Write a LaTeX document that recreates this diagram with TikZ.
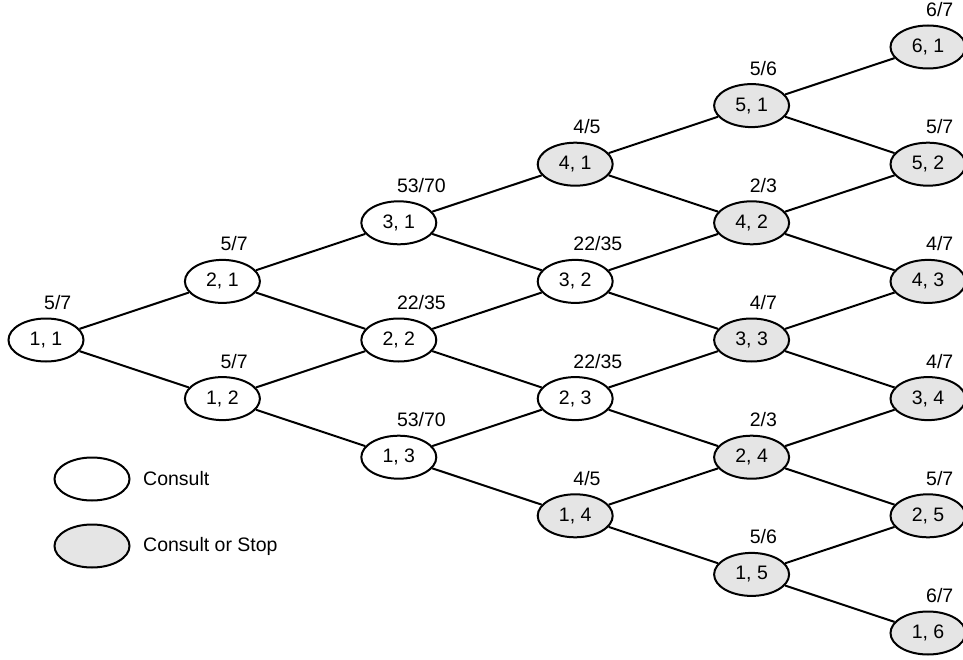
\documentclass[tikz,border=0pt]{standalone}
\usepackage{fontspec}
\setmainfont{Liberation Sans}
\usetikzlibrary{shapes.geometric}
\definecolor{cinza}{gray}{0.9}

\begin{document}
\begin{tikzpicture}[x=1pt, y=-1pt,
  estado/.style={ellipse, draw, line width=2pt, minimum width=75pt,
    minimum height=43pt, inner sep=0pt, font=\fontsize{19.5}{22}\selectfont},
  parar/.style={estado, fill=cinza},
  valor/.style={anchor=base west, inner sep=0pt, font=\fontsize{19.5}{22}\selectfont},
  legenda/.style={anchor=west, inner sep=0pt, font=\fontsize{19.5}{22}\selectfont},
  ramo/.style={line width=2pt}]

  \useasboundingbox (0,0) rectangle (963,660);

  % Colunas: x = 46 + 176.4*(i+j-2)
  % Linhas:  y = 340 + 58.6*(j-i)

  % Coluna 1
  \node[estado] (n11) at (46,340)    {1, 1};

  % Coluna 2
  \node[estado] (n21) at (222.4,281.4) {2, 1};
  \node[estado] (n12) at (222.4,398.6) {1, 2};

  % Coluna 3
  \node[estado] (n31) at (398.8,222.8) {3, 1};
  \node[estado] (n22) at (398.8,340)   {2, 2};
  \node[estado] (n13) at (398.8,457.2) {1, 3};

  % Coluna 4
  \node[parar]  (n41) at (575.2,164.2) {4, 1};
  \node[estado] (n32) at (575.2,281.4) {3, 2};
  \node[estado] (n23) at (575.2,398.6) {2, 3};
  \node[parar]  (n14) at (575.2,515.8) {1, 4};

  % Coluna 5
  \node[parar] (n51) at (751.6,105.6) {5, 1};
  \node[parar] (n42) at (751.6,222.8) {4, 2};
  \node[parar] (n33) at (751.6,340)   {3, 3};
  \node[parar] (n24) at (751.6,457.2) {2, 4};
  \node[parar] (n15) at (751.6,574.4) {1, 5};

  % Coluna 6
  \node[parar] (n61) at (928,47)    {6, 1};
  \node[parar] (n52) at (928,164.2) {5, 2};
  \node[parar] (n43) at (928,281.4) {4, 3};
  \node[parar] (n34) at (928,398.6) {3, 4};
  \node[parar] (n25) at (928,515.8) {2, 5};
  \node[parar] (n16) at (928,633)   {1, 6};

  % Ramos da árvore
  \draw[ramo] (n11) -- (n21)  (n11) -- (n12)
              (n21) -- (n31)  (n21) -- (n22)
              (n12) -- (n22)  (n12) -- (n13)
              (n31) -- (n41)  (n31) -- (n32)
              (n22) -- (n32)  (n22) -- (n23)
              (n13) -- (n23)  (n13) -- (n14)
              (n41) -- (n51)  (n41) -- (n42)
              (n32) -- (n42)  (n32) -- (n33)
              (n23) -- (n33)  (n23) -- (n24)
              (n14) -- (n24)  (n14) -- (n15)
              (n51) -- (n61)  (n51) -- (n52)
              (n42) -- (n52)  (n42) -- (n43)
              (n33) -- (n43)  (n33) -- (n34)
              (n24) -- (n34)  (n24) -- (n25)
              (n15) -- (n25)  (n15) -- (n16);

  % Valores acima de cada estado
  \node[valor] (v11) at ([xshift=-2pt,yshift=8pt]n11.north) {5/7};
  \node[valor] (v21) at ([xshift=-2pt,yshift=8pt]n21.north) {5/7};
  \node[valor] (v12) at ([xshift=-2pt,yshift=8pt]n12.north) {5/7};
  \node[valor] (v31) at ([xshift=-2pt,yshift=8pt]n31.north) {53/70};
  \node[valor] (v22) at ([xshift=-2pt,yshift=8pt]n22.north) {22/35};
  \node[valor] (v13) at ([xshift=-2pt,yshift=8pt]n13.north) {53/70};
  \node[valor] (v41) at ([xshift=-2pt,yshift=8pt]n41.north) {4/5};
  \node[valor] (v32) at ([xshift=-2pt,yshift=8pt]n32.north) {22/35};
  \node[valor] (v23) at ([xshift=-2pt,yshift=8pt]n23.north) {22/35};
  \node[valor] (v14) at ([xshift=-2pt,yshift=8pt]n14.north) {4/5};
  \node[valor] (v51) at ([xshift=-2pt,yshift=8pt]n51.north) {5/6};
  \node[valor] (v42) at ([xshift=-2pt,yshift=8pt]n42.north) {2/3};
  \node[valor] (v33) at ([xshift=-2pt,yshift=8pt]n33.north) {4/7};
  \node[valor] (v24) at ([xshift=-2pt,yshift=8pt]n24.north) {2/3};
  \node[valor] (v15) at ([xshift=-2pt,yshift=8pt]n15.north) {5/6};
  \node[valor] (v61) at ([xshift=-2pt,yshift=8pt]n61.north) {6/7};
  \node[valor] (v52) at ([xshift=-2pt,yshift=8pt]n52.north) {5/7};
  \node[valor] (v43) at ([xshift=-2pt,yshift=8pt]n43.north) {4/7};
  \node[valor] (v34) at ([xshift=-2pt,yshift=8pt]n34.north) {4/7};
  \node[valor] (v25) at ([xshift=-2pt,yshift=8pt]n25.north) {5/7};
  \node[valor] (v16) at ([xshift=-2pt,yshift=8pt]n16.north) {6/7};

  % Legenda
  \node[estado] (lconsult) at (92,479) {};
  \node[legenda] (tconsult) at (143,479) {Consult};
  \node[parar] (lparar) at (92,546) {};
  \node[legenda] (tparar) at (143,546) {Consult or Stop};

\end{tikzpicture}
\end{document}
